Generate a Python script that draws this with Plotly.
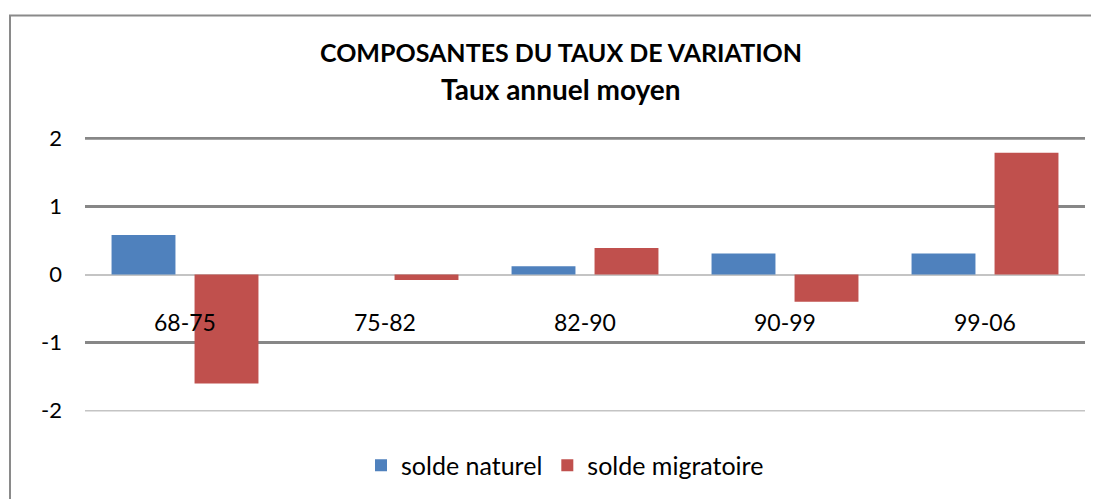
import plotly.graph_objects as go

categories = ["68-75", "75-82", "82-90", "90-99", "99-06"]
solde_naturel = [0.58, 0.0, 0.12, 0.31, 0.31]
solde_migratoire = [-1.6, -0.08, 0.39, -0.4, 1.79]
y_ticks = [-2, -1, 0, 1, 2]
y_tick_labels = ["-2", "-1", "0", "1", "2"]
grid_thick = [-1, 1, 2]
grid_thin = [-2]

title_line1 = "COMPOSANTES DU TAUX DE VARIATION"
title_line2 = "Taux annuel moyen"

FONT = "Lato"
BLUE = "#4F81BD"
RED = "#C0504D"

fig = go.Figure()
fig.add_trace(go.Bar(x=categories, y=solde_naturel, name="solde naturel",
                     marker=dict(color=BLUE, line=dict(width=0))))
fig.add_trace(go.Bar(x=categories, y=solde_migratoire, name="solde migratoire",
                     marker=dict(color=RED, line=dict(width=0))))

shapes = []
for v in grid_thick:
    shapes.append(dict(type="line", xref="paper", x0=0, x1=1, yref="y", y0=v, y1=v,
                       line=dict(color="#878787", width=3), layer="below"))
for v in grid_thin:
    shapes.append(dict(type="line", xref="paper", x0=0, x1=1, yref="y", y0=v, y1=v,
                       line=dict(color="#c4c4c4", width=1.5), layer="below"))
# outer chart border (extends past right and bottom edges)
shapes.append(dict(type="rect", xref="paper", yref="paper", x0=-0.075, x1=1.3,
                   y0=-0.6, y1=1.442, line=dict(color="#8a8a8a", width=2),
                   fillcolor="rgba(0,0,0,0)", layer="below"))

annotations = []
for c in categories:
    annotations.append(dict(x=c, y=0, xref="x", yref="y", text=c, showarrow=False,
                            yanchor="middle", yshift=-47,
                            font=dict(family=FONT, size=23, color="black")))
annotations.append(dict(x=0.476, y=1.31, xref="paper", yref="paper", text="<b>" + title_line1 + "</b>",
                        showarrow=False, xanchor="center", yanchor="middle",
                        font=dict(family=FONT, size=25, color="black")))
annotations.append(dict(x=0.476, y=1.175, xref="paper", yref="paper", text="<b>" + title_line2 + "</b>",
                        showarrow=False, xanchor="center", yanchor="middle",
                        font=dict(family=FONT, size=28, color="black")))

fig.update_layout(
    width=1091, height=491,
    margin=dict(l=77, r=14, t=129, b=86),
    paper_bgcolor="white", plot_bgcolor="white",
    barmode="group", bargap=0.17, bargroupgap=0.23,
    font=dict(family=FONT, size=22, color="black"),
    showlegend=True,
    legend=dict(orientation="h", x=0.48, xanchor="center", y=-0.19, yanchor="middle",
                font=dict(family=FONT, size=25, color="black"), traceorder="normal"),
    shapes=shapes,
    annotations=annotations,
    xaxis=dict(type="category", showticklabels=False, showgrid=False, zeroline=False,
               showline=False, ticks=""),
    yaxis=dict(range=[-2.02, 2.02], tickvals=y_ticks, ticktext=y_tick_labels, showgrid=False,
               zeroline=True, zerolinecolor="#c4c4c4", zerolinewidth=1.5,
               ticks="", ticklabelstandoff=22,
               tickfont=dict(family=FONT, size=22, color="black")),
)

fig.write_html("out.html")
